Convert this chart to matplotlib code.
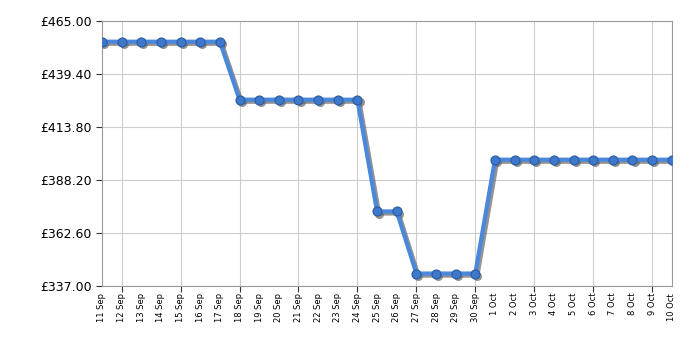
import matplotlib
matplotlib.use('Agg')
import matplotlib.pyplot as plt
from matplotlib.transforms import offset_copy

days = ['11 Sep', '12 Sep', '13 Sep', '14 Sep', '15 Sep', '16 Sep', '17 Sep',
        '18 Sep', '19 Sep', '20 Sep', '21 Sep', '22 Sep', '23 Sep', '24 Sep',
        '25 Sep', '26 Sep', '27 Sep', '28 Sep', '29 Sep', '30 Sep',
        '1 Oct', '2 Oct', '3 Oct', '4 Oct', '5 Oct', '6 Oct', '7 Oct', '8 Oct',
        '9 Oct', '10 Oct']
prices = [455.0] * 7 + [427.0] * 7 + [373.0] * 2 + [343.0] * 4 + [398.0] * 10
yticks = [337.00, 362.60, 388.20, 413.80, 439.40, 465.00]


def main():
    fig = plt.figure(figsize=(7, 3.5), dpi=100)
    ax = fig.add_axes([0.1457, 0.183, 0.814, 0.757])

    x = list(range(len(days)))
    # drop shadow
    shadow = offset_copy(ax.transData, fig=fig, x=1.5, y=-1.5, units='points')
    ax.plot(x, prices, color='#666666', lw=3, marker='o', ms=6.5, mew=0,
            alpha=0.7, transform=shadow, zorder=2)
    ax.plot(x, prices, color='#4a88dc', lw=3, marker='o', ms=6.5,
            mfc='#3d78cc', mec='#2a5a9e', mew=0.8, zorder=3)

    ax.set_xlim(0, len(days) - 1)
    ax.set_ylim(yticks[0], yticks[-1])

    # ticks + grid every 3 days, labels every day
    ax.xaxis.remove_overlapping_locs = False
    ax.set_xticks(x[1::3])
    ax.set_xticklabels([])
    ax.tick_params(axis='x', which='major', length=4, color='#333333')
    ax.set_xticks(x, minor=True)
    ax.set_xticklabels(days, minor=True, rotation=90, fontsize=6)
    ax.tick_params(axis='x', which='minor', length=0, pad=5)

    ax.set_yticks(yticks)
    ax.set_yticklabels(['£%.2f' % v for v in yticks], fontsize=9)
    ax.tick_params(axis='y', length=4, color='#333333')

    ax.grid(True, which='major', color='#cccccc', lw=0.8)
    ax.set_axisbelow(True)

    for s in ax.spines.values():
        s.set_color('#999999')

    fig.savefig('out.png', dpi=100)


main()
